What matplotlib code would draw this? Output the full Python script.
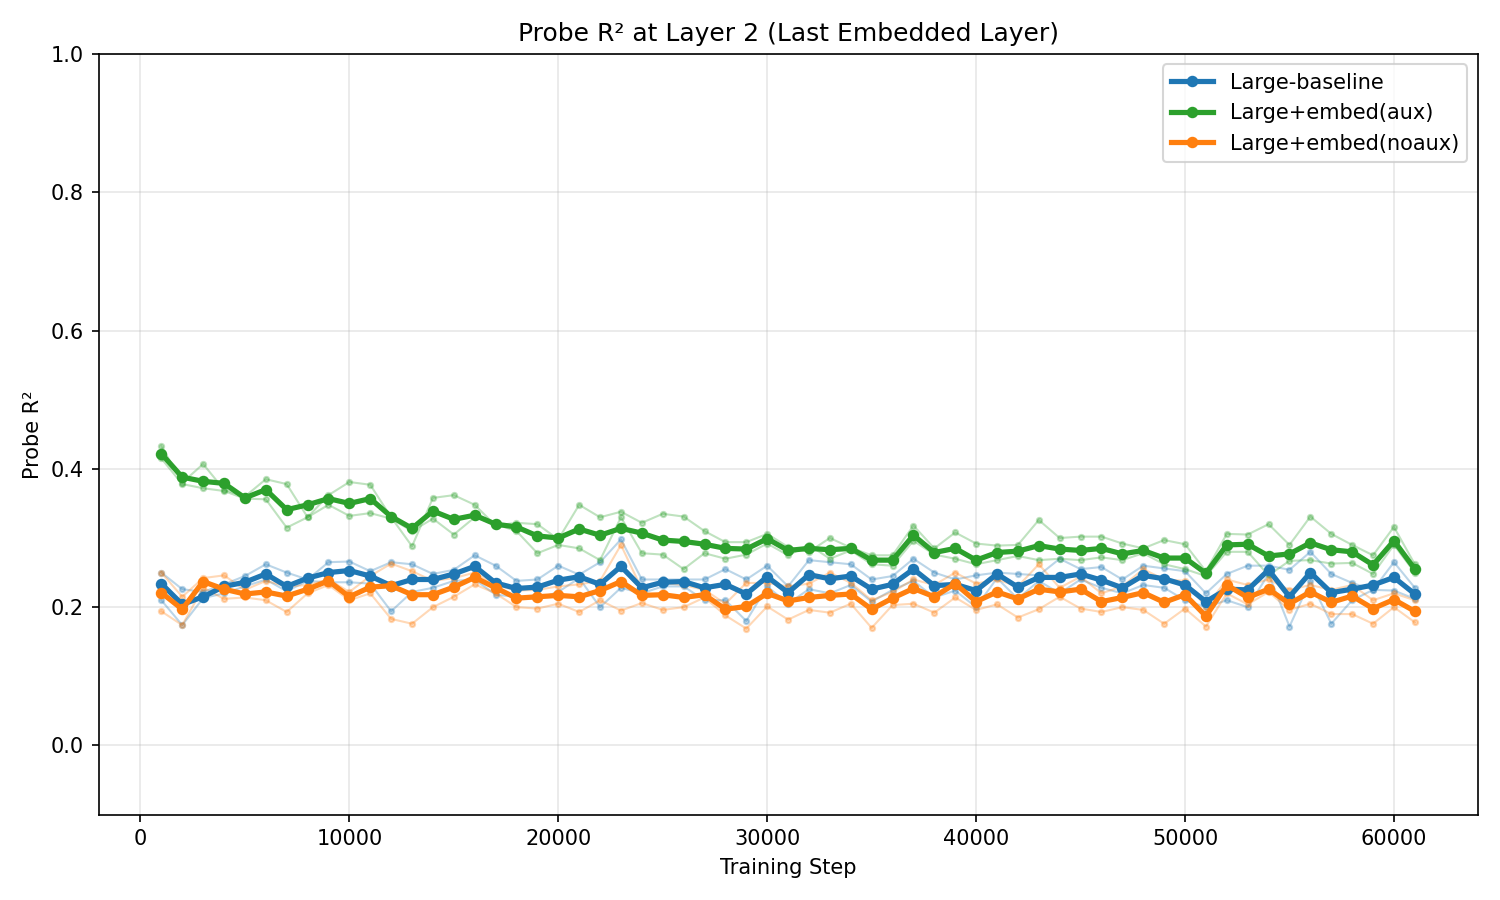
import numpy as np
import matplotlib
matplotlib.use("Agg")
from matplotlib import pyplot as plt

steps = np.arange(1000, 62000, 1000)

# mean curves
baseline_mean = [0.234, 0.204, 0.215, 0.230, 0.236, 0.248, 0.230, 0.242, 0.250, 0.253,
                 0.245, 0.231, 0.240, 0.240, 0.248, 0.259, 0.235, 0.227, 0.229, 0.239,
                 0.244, 0.233, 0.259, 0.228, 0.236, 0.237, 0.228, 0.233, 0.219, 0.244,
                 0.221, 0.247, 0.241, 0.245, 0.226, 0.233, 0.255, 0.231, 0.233, 0.224,
                 0.248, 0.229, 0.243, 0.243, 0.248, 0.239, 0.228, 0.246, 0.241, 0.232,
                 0.208, 0.226, 0.225, 0.254, 0.215, 0.250, 0.221, 0.226, 0.232, 0.243, 0.219]
aux_mean = [0.422, 0.388, 0.382, 0.379, 0.358, 0.370, 0.341, 0.348, 0.357, 0.350,
            0.357, 0.331, 0.314, 0.339, 0.327, 0.333, 0.320, 0.316, 0.303, 0.300,
            0.313, 0.304, 0.314, 0.307, 0.297, 0.295, 0.291, 0.285, 0.284, 0.299,
            0.282, 0.285, 0.283, 0.285, 0.268, 0.268, 0.304, 0.279, 0.285, 0.268,
            0.279, 0.281, 0.289, 0.284, 0.282, 0.285, 0.277, 0.282, 0.271, 0.271,
            0.249, 0.290, 0.291, 0.274, 0.277, 0.293, 0.283, 0.280, 0.261, 0.296, 0.255]
noaux_mean = [0.221, 0.197, 0.237, 0.226, 0.219, 0.222, 0.216, 0.226, 0.238, 0.215,
              0.229, 0.231, 0.218, 0.218, 0.229, 0.243, 0.228, 0.213, 0.215, 0.217,
              0.215, 0.224, 0.237, 0.217, 0.218, 0.214, 0.218, 0.197, 0.201, 0.220,
              0.209, 0.214, 0.217, 0.219, 0.197, 0.213, 0.227, 0.215, 0.234, 0.208,
              0.222, 0.212, 0.226, 0.222, 0.226, 0.208, 0.214, 0.221, 0.207, 0.218,
              0.187, 0.232, 0.214, 0.226, 0.205, 0.222, 0.207, 0.216, 0.198, 0.211, 0.194]

# individual seeds (faint)
baseline_seed_a = [0.250, 0.226, 0.222, 0.233, 0.245, 0.262, 0.250, 0.240, 0.265, 0.266,
                   0.252, 0.265, 0.262, 0.248, 0.254, 0.275, 0.260, 0.238, 0.240, 0.260,
                   0.247, 0.265, 0.298, 0.240, 0.240, 0.240, 0.240, 0.255, 0.240, 0.260,
                   0.230, 0.268, 0.265, 0.262, 0.240, 0.245, 0.270, 0.250, 0.240, 0.246,
                   0.250, 0.248, 0.246, 0.270, 0.255, 0.258, 0.240, 0.260, 0.256, 0.252,
                   0.220, 0.248, 0.260, 0.260, 0.254, 0.280, 0.248, 0.235, 0.225, 0.265, 0.228]
baseline_seed_b = [0.210, 0.174, 0.213, 0.220, 0.230, 0.240, 0.223, 0.238, 0.236, 0.236,
                   0.234, 0.194, 0.222, 0.228, 0.238, 0.240, 0.218, 0.215, 0.212, 0.222,
                   0.242, 0.200, 0.228, 0.220, 0.230, 0.230, 0.210, 0.210, 0.180, 0.230,
                   0.205, 0.226, 0.220, 0.232, 0.208, 0.225, 0.238, 0.214, 0.224, 0.200,
                   0.242, 0.212, 0.238, 0.220, 0.240, 0.228, 0.220, 0.232, 0.228, 0.210,
                   0.200, 0.210, 0.200, 0.248, 0.172, 0.238, 0.176, 0.210, 0.225, 0.224, 0.212]
aux_seed_a = [0.433, 0.380, 0.407, 0.370, 0.360, 0.385, 0.378, 0.330, 0.362, 0.381,
              0.377, 0.330, 0.288, 0.358, 0.362, 0.348, 0.318, 0.322, 0.320, 0.298,
              0.348, 0.330, 0.338, 0.322, 0.335, 0.331, 0.310, 0.294, 0.294, 0.306,
              0.287, 0.280, 0.300, 0.286, 0.275, 0.275, 0.318, 0.285, 0.308, 0.292,
              0.289, 0.290, 0.326, 0.300, 0.302, 0.302, 0.292, 0.285, 0.297, 0.291,
              0.252, 0.306, 0.305, 0.320, 0.290, 0.331, 0.306, 0.290, 0.275, 0.316, 0.262]
aux_seed_b = [0.415, 0.378, 0.372, 0.368, 0.357, 0.356, 0.315, 0.330, 0.348, 0.332,
              0.336, 0.328, 0.310, 0.328, 0.305, 0.330, 0.320, 0.310, 0.278, 0.290,
              0.285, 0.268, 0.330, 0.278, 0.276, 0.255, 0.278, 0.270, 0.276, 0.292,
              0.275, 0.290, 0.270, 0.282, 0.262, 0.260, 0.296, 0.276, 0.270, 0.262,
              0.268, 0.274, 0.268, 0.270, 0.268, 0.272, 0.268, 0.278, 0.262, 0.255,
              0.245, 0.280, 0.280, 0.246, 0.267, 0.268, 0.263, 0.264, 0.248, 0.290, 0.250]
noaux_seed_a = [0.250, 0.215, 0.242, 0.246, 0.225, 0.238, 0.230, 0.232, 0.240, 0.222,
                0.245, 0.263, 0.252, 0.238, 0.242, 0.250, 0.232, 0.224, 0.225, 0.230,
                0.233, 0.238, 0.290, 0.226, 0.235, 0.232, 0.225, 0.205, 0.235, 0.235,
                0.230, 0.234, 0.250, 0.235, 0.210, 0.222, 0.240, 0.232, 0.250, 0.234,
                0.240, 0.230, 0.262, 0.228, 0.244, 0.220, 0.230, 0.255, 0.240, 0.238,
                0.200, 0.240, 0.232, 0.240, 0.225, 0.232, 0.225, 0.232, 0.210, 0.220, 0.210]
noaux_seed_b = [0.194, 0.174, 0.228, 0.212, 0.214, 0.210, 0.193, 0.220, 0.232, 0.210,
                0.220, 0.183, 0.176, 0.200, 0.215, 0.233, 0.220, 0.200, 0.198, 0.205,
                0.193, 0.210, 0.195, 0.206, 0.196, 0.200, 0.214, 0.188, 0.169, 0.201,
                0.182, 0.196, 0.192, 0.205, 0.170, 0.203, 0.205, 0.192, 0.214, 0.196,
                0.204, 0.185, 0.197, 0.215, 0.198, 0.193, 0.200, 0.196, 0.176, 0.198,
                0.172, 0.220, 0.204, 0.222, 0.196, 0.205, 0.190, 0.190, 0.176, 0.200, 0.178]

runs = [
    ("Large-baseline", "#1f77b4", baseline_mean, [baseline_seed_a, baseline_seed_b]),
    ("Large+embed(aux)", "#2ca02c", aux_mean, [aux_seed_a, aux_seed_b]),
    ("Large+embed(noaux)", "#ff7f0e", noaux_mean, [noaux_seed_a, noaux_seed_b]),
]

fig, ax = plt.subplots(figsize=(10, 6), dpi=150)

# faint per-seed lines first, means on top
for label, color, mean, seeds in runs:
    for s in seeds:
        ax.plot(steps, s, color=color, alpha=0.3, linewidth=1, marker="o", markersize=2.5)
for label, color, mean, seeds in runs:
    ax.plot(steps, mean, color=color, linewidth=2.5, marker="o", markersize=4.5, label=label)

ax.set_ylim(-0.1, 1.0)
ax.set_xlabel("Training Step")
ax.set_ylabel("Probe R²")
ax.set_title("Probe R² at Layer 2 (Last Embedded Layer)")
ax.grid(True, alpha=0.3)
ax.legend(loc="upper right")

plt.tight_layout()
plt.savefig("out.png")
